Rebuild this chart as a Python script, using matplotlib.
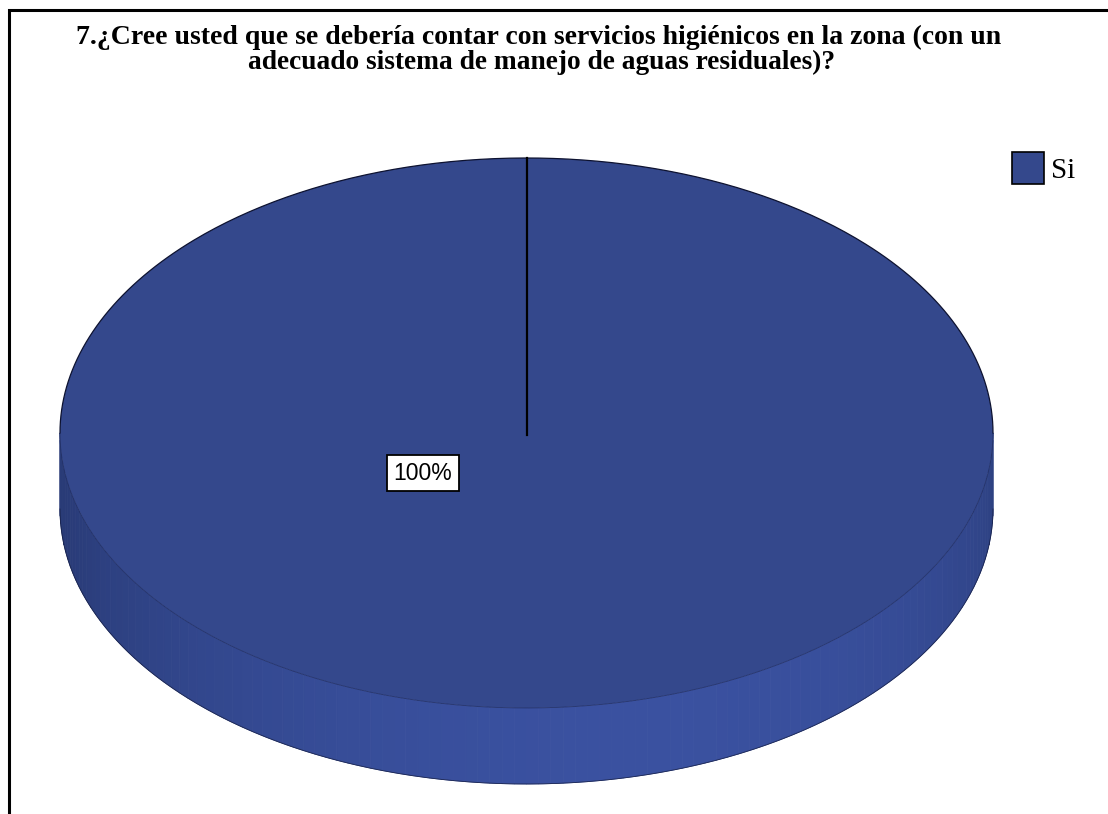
import numpy as np
import matplotlib
matplotlib.use("Agg")
import matplotlib.pyplot as plt
from matplotlib.patches import Wedge, Patch
from matplotlib.transforms import Affine2D
import matplotlib.colors as mcolors

# ---- data ----
title_lines = ["7.¿Cree usted que se debería contar con servicios higiénicos en la zona (con un",
               "adecuado sistema de manejo de aguas residuales)?"]
categories = ["Si"]
values = [100]
pct_labels = ["100%"]

# ---- style ----
W, H = 1108, 814
top_color = "#34488C"
side_dark = np.array(mcolors.to_rgb("#293B77"))
side_light = np.array(mcolors.to_rgb("#3A51A0"))
edge_color = "#141c40"

fig = plt.figure(figsize=(W / 100, H / 100), dpi=100)
ax = fig.add_axes([0, 0, 1, 1])
ax.set_xlim(0, W)
ax.set_ylim(H, 0)
ax.axis("off")

# border (top and left)
ax.plot([9, 9, W], [H, 10, 10], color="black", lw=2.2, solid_capstyle="butt", solid_joinstyle="miter")

# pie geometry
cx, cy, rx, ry, depth = 526.5, 433.0, 466.5, 275.0, 76.0

# side (front half), shaded strips
t = np.linspace(0, np.pi, 121)
for i in range(len(t) - 1):
    tt = np.linspace(t[i], t[i + 1], 4)
    xs = cx + rx * np.cos(tt)
    ys = cy + ry * np.sin(tt)
    tm = 0.5 * (t[i] + t[i + 1])
    f = np.clip(np.cos((tm - 1.35) * 0.95), 0, 1) ** 1.2
    col = side_dark + (side_light - side_dark) * f
    ax.fill(np.r_[xs, xs[::-1]], np.r_[ys, ys[::-1] + depth], color=col, ec=col, lw=0.6, zorder=2)
# side outline
tt = np.linspace(0, np.pi, 300)
ax.plot(cx + rx * np.cos(tt), cy + ry * np.sin(tt) + depth, color=edge_color, lw=0.6, alpha=0.8, zorder=3)

# top face wedges from values
ell = Affine2D().scale(rx, ry).translate(cx, cy) + ax.transData
total = float(sum(values))
start = -90.0
bounds = [start]
for v in values:
    a0 = bounds[-1]
    a1 = a0 + 360.0 * v / total
    ax.add_patch(Wedge((0, 0), 1.0, a0, a1, facecolor=top_color, edgecolor="none", transform=ell, zorder=4))
    bounds.append(a1)
# outline: back half darker, front half subtle
tb = np.radians(np.linspace(180, 360, 300))
ax.plot(cx + rx * np.cos(tb), cy + ry * np.sin(tb), color="#0d1230", lw=0.9, zorder=5)
tf = np.radians(np.linspace(0, 180, 300))
ax.plot(cx + rx * np.cos(tf), cy + ry * np.sin(tf), color="#1e2a5c", lw=0.6, alpha=0.7, zorder=5)
for b in (bounds[:-1] if len(values) == 1 else bounds):
    ax.plot([cx, cx + rx * np.cos(np.radians(b))], [cy + 2, cy + ry * np.sin(np.radians(b))],
            color="black", lw=1.6, zorder=6)

# percentage label
ax.text(423, 473, pct_labels[0], ha="center", va="center", fontsize=16.5,
        family="Liberation Sans", color="black", zorder=7,
        bbox=dict(boxstyle="square,pad=0.28", fc="white", ec="black", lw=1.3))

# title
ax.text(539, 37, title_lines[0], ha="center", va="center", fontsize=20, fontweight="bold",
        family="Liberation Serif")
ax.text(542, 62, title_lines[1], ha="center", va="center", fontsize=19.7, fontweight="bold",
        family="Liberation Serif")

# legend
handles = [Patch(facecolor=top_color, edgecolor="black", lw=1.2)]
leg = ax.legend(handles, categories, loc="upper left", bbox_to_anchor=(1012 / W, 1 - 152 / H),
                frameon=False, prop={"family": "Liberation Serif", "size": 21},
                handlelength=1.1, handleheight=1.31, handletextpad=0.25,
                borderpad=0, borderaxespad=0)

fig.savefig("out.png", dpi=100)
